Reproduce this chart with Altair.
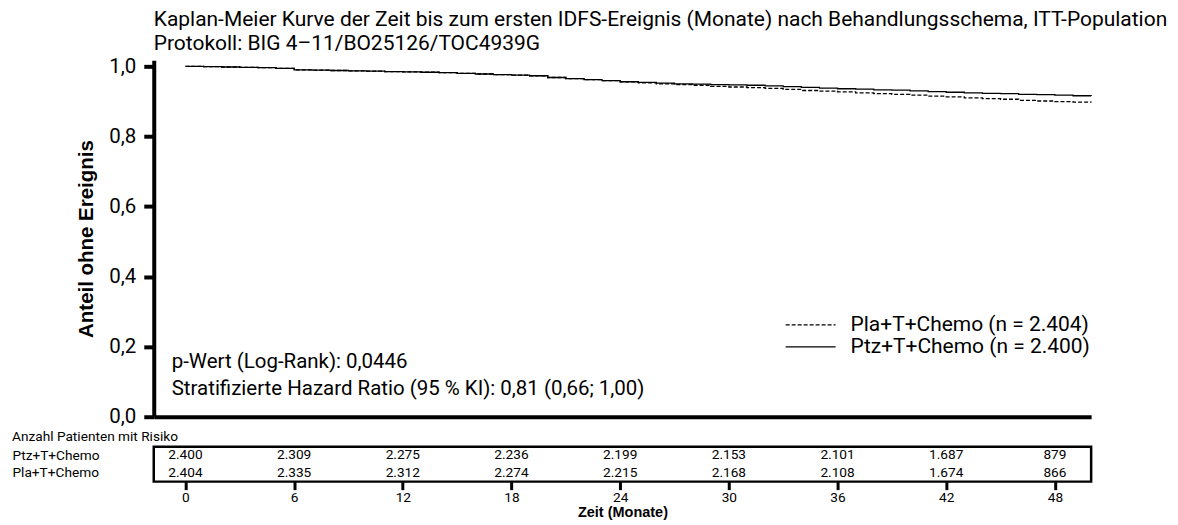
import altair as alt
import pandas as pd

# ---------------- texts ----------------
TITLE = [
    "Kaplan-Meier Kurve der Zeit bis zum ersten IDFS-Ereignis (Monate) nach Behandlungsschema, ITT-Population",
    "Protokoll: BIG 4–11/BO25126/TOC4939G",
]
Y_TITLE = "Anteil ohne Ereignis"
X_TITLE = "Zeit (Monate)"
RISK_TITLE = "Anzahl Patienten mit Risiko"
STATS = [
    "p-Wert (Log-Rank): 0,0446",
    "Stratifizierte Hazard Ratio (95 % KI): 0,81 (0,66; 1,00)",
]

# ---------------- data ----------------
arms = ["Pla+T+Chemo", "Ptz+T+Chemo"]
arm_n = [2404, 2400]
arm_dash = [[4, 2], [10, 0]]

months = list(range(51))
surv_pla = [1.000, 0.999, 0.998, 0.997, 0.996, 0.994, 0.990, 0.989, 0.988, 0.987,
            0.986, 0.985, 0.984, 0.983, 0.982, 0.980, 0.978, 0.976, 0.975, 0.973,
            0.968, 0.965, 0.962, 0.959, 0.956, 0.953, 0.950, 0.948, 0.946, 0.943,
            0.941, 0.939, 0.937, 0.934, 0.931, 0.929, 0.927, 0.924, 0.922, 0.920,
            0.918, 0.915, 0.913, 0.910, 0.908, 0.906, 0.903, 0.901, 0.899, 0.898,
            0.897]
surv_ptz = [1.000, 0.999, 0.998, 0.997, 0.996, 0.994, 0.990, 0.989, 0.988, 0.987,
            0.986, 0.985, 0.984, 0.983, 0.982, 0.980, 0.978, 0.976, 0.975, 0.973,
            0.968, 0.965, 0.962, 0.959, 0.956, 0.954, 0.952, 0.950, 0.949, 0.948,
            0.947, 0.946, 0.944, 0.942, 0.940, 0.938, 0.936, 0.935, 0.933, 0.932,
            0.930, 0.928, 0.926, 0.924, 0.923, 0.922, 0.920, 0.919, 0.918, 0.916,
            0.915]

risk_months = [0, 6, 12, 18, 24, 30, 36, 42, 48]
risk_ptz = [2400, 2309, 2275, 2236, 2199, 2153, 2101, 1687, 879]
risk_pla = [2404, 2335, 2312, 2274, 2215, 2168, 2108, 1674, 866]
risk_rows_order = ["Ptz+T+Chemo", "Pla+T+Chemo"]

y_ticks = [0.0, 0.2, 0.4, 0.6, 0.8, 1.0]


def de_int(v):
    return f"{v:,}".replace(",", ".")


km_df = pd.DataFrame(
    [{"arm": a, "month": m, "surv": s}
     for a, surv in zip(arms, [surv_pla, surv_ptz])
     for m, s in zip(months, surv)]
)
leg_df = pd.DataFrame({"arm": arms,
                       "label": [f"{a} (n = {de_int(n)})" for a, n in zip(arms, arm_n)]})
stats_df = pd.DataFrame({"row": list(range(len(STATS))), "txt": STATS})
risk_df = pd.DataFrame(
    [{"arm": a, "month": m, "txt": de_int(n)}
     for a, vals in zip(["Ptz+T+Chemo", "Pla+T+Chemo"], [risk_ptz, risk_pla])
     for m, n in zip(risk_months, vals)]
)

# ---------------- styling ----------------
FONT = "Roboto"
BOLD_FONT = "Liberation Sans"
W = 939
H = 357
XS = alt.Scale(domain=[-1.75, 50], nice=False, zero=False)
SMALL = 13.7

lines = alt.Chart(km_df).mark_line(
    interpolate="step-after", color="black", strokeWidth=1.3
).encode(
    x=alt.X("month:Q", scale=XS,
            axis=alt.Axis(title=None, labels=False, ticks=False, grid=False,
                          domainColor="black", domainWidth=4)),
    y=alt.Y("surv:Q", scale=alt.Scale(domain=[0, 1.017], nice=False, zero=True),
            axis=alt.Axis(title=Y_TITLE, values=y_ticks,
                          labelExpr="replace(format(datum.value, '.1f'), '.', ',')",
                          grid=False, domainColor="black", domainWidth=4,
                          tickColor="black", tickWidth=4, tickSize=10,
                          labelFontSize=20.5, labelPadding=8, labelFont=FONT,
                          labelColor="black",
                          titleFontSize=20.5, titleFontWeight="bold",
                          titleFont=BOLD_FONT, titlePadding=12, titleColor="black")),
    strokeDash=alt.StrokeDash("arm:N", scale=alt.Scale(domain=arms, range=arm_dash),
                              legend=None),
    order="month:Q",
)

layers = [lines]
for i, a in enumerate(arms):
    base = alt.Chart(leg_df).transform_filter(alt.datum.arm == a)
    layers.append(base.mark_rule(color="black", strokeWidth=1.2,
                                 strokeDash=arm_dash[i]).encode(
        x=alt.value(633), x2=alt.value(683), y=alt.value(265 + 22 * i)))
    layers.append(base.mark_text(align="left", baseline="middle", font=FONT,
                                 fontSize=21, color="black").encode(
        x=alt.value(698), y=alt.value(265 + 22 * i), text="label:N"))

for i in range(len(STATS)):
    base = alt.Chart(stats_df).transform_filter(alt.datum.row == i)
    layers.append(base.mark_text(align="left", baseline="middle", font=FONT,
                                 fontSize=20.5, color="black").encode(
        x=alt.value(18), y=alt.value(302 + 27 * i), text="txt:N"))

main = alt.layer(*layers).properties(
    width=W, height=H,
    title=alt.TitleParams(TITLE[0], subtitle=TITLE[1], anchor="start", frame="group",
                          fontSize=21, font=FONT, fontWeight="normal",
                          subtitleFontSize=21, subtitleFont=FONT,
                          subtitleColor="black", subtitlePadding=3,
                          offset=2, color="black"),
)

table = alt.Chart(risk_df).mark_text(font=FONT, fontSize=SMALL, color="black").encode(
    x=alt.X("month:Q", scale=XS,
            axis=alt.Axis(values=risk_months, title=X_TITLE, domain=False, grid=False,
                          tickColor="black", tickWidth=3, tickSize=8,
                          labelFontSize=SMALL, labelPadding=1, labelColor="black",
                          labelFont=FONT,
                          titleFontSize=14.5, titleFont=BOLD_FONT, titleFontWeight="bold",
                          titlePadding=1, titleColor="black")),
    y=alt.Y("arm:N", sort=risk_rows_order,
            axis=alt.Axis(title=None, ticks=False, domain=False, labelAlign="left",
                          labelPadding=142, labelFontSize=SMALL, labelColor="black",
                          labelFont=FONT)),
    text="txt:N",
).properties(
    width=W, height=35,
    view=alt.ViewBackground(stroke="black", strokeWidth=2.5),
    title=alt.TitleParams(RISK_TITLE, anchor="start", frame="group", dx=-142,
                          fontSize=SMALL, fontWeight="normal", font=FONT, offset=3,
                          color="black"),
)

chart = alt.vconcat(main, table, spacing=30, bounds="flush").properties(
    padding={"left": 2, "top": 0, "right": 2, "bottom": 0}
).configure_view(strokeWidth=0)

chart.save("out.html", embed_options={"renderer": "svg", "actions": False})
